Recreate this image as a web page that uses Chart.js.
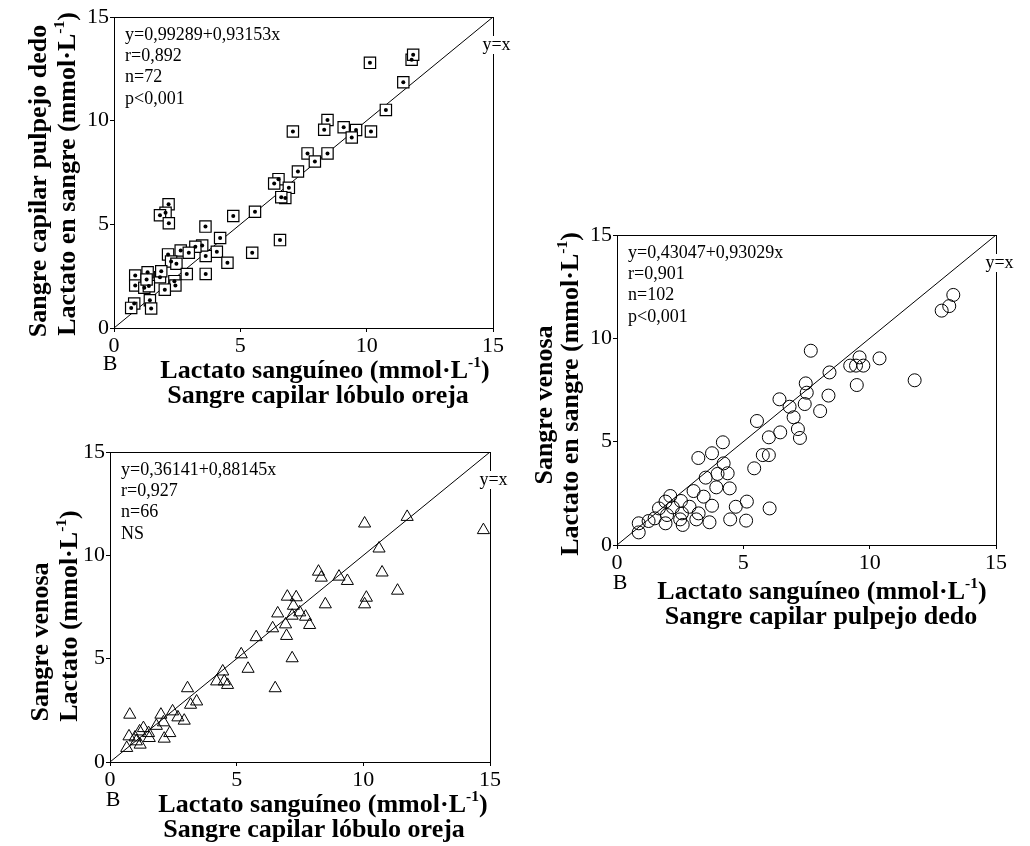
<!DOCTYPE html>
<html>
<head>
<meta charset="utf-8">
<script src="https://cdn.jsdelivr.net/npm/chart.js@4.4.1/dist/chart.umd.min.js"></script>
<style>
  body { margin: 0; background: #fff; width: 1030px; height: 846px; position: relative; overflow: hidden; }
  canvas { position: absolute; }
</style>
</head>
<body>
<canvas id="c1" width="520" height="420" style="left:0;top:0"></canvas>
<canvas id="c2" width="520" height="416" style="left:0;top:430px"></canvas>
<canvas id="c3" width="510" height="420" style="left:520px;top:220px"></canvas>
<script>
// axis range and ticks shared by the three panels
const axisMin = 0;
const axisMax = 15;
const tickValues = [0, 5, 10, 15];

// Panel 1: capilar lóbulo oreja (x) vs capilar pulpejo dedo (y)
const earA = [10.13, 11.78, 11.84, 11.45, 10.76, 7.08, 8.45, 8.32, 9.09, 9.58, 10.17, 9.41, 7.66, 8.45, 7.95,
  7.28, 6.51, 6.34, 6.92, 6.78, 6.62, 5.58, 4.72, 2.16, 2.04, 1.82, 2.17, 3.62, 4.20, 6.57, 5.47, 4.07, 3.63,
  3.49, 3.22, 2.64, 2.96, 2.14, 2.26, 2.47, 4.49, 2.88, 3.63, 2.39, 2.43, 1.82, 1.87, 1.33, 0.84, 0.84, 1.20,
  1.38, 1.29, 2.01, 0.80, 0.68, 1.42, 1.47];
const fingerA = [12.79, 12.94, 13.18, 11.85, 10.52, 9.48, 10.03, 9.56, 9.68, 9.55, 9.48, 9.19, 8.42, 8.42, 8.03,
  7.55, 7.18, 6.97, 6.76, 6.27, 6.31, 5.61, 5.40, 5.97, 5.56, 5.44, 5.05, 4.89, 4.34, 4.24, 3.63, 3.68, 3.47,
  3.98, 3.92, 3.74, 3.63, 3.55, 3.21, 3.10, 3.15, 2.60, 2.61, 2.26, 2.05, 2.45, 2.74, 2.69, 2.53, 2.05, 1.94,
  2.02, 2.34, 1.85, 1.18, 0.97, 1.34, 0.94];
const statsA = ['y=0,99289+0,93153x', 'r=0,892', 'n=72', 'p<0,001'];

// Panel 2: capilar lóbulo oreja (x) vs venosa (y)
const earB = [10.05, 11.73, 14.74, 10.62, 10.74, 11.35, 10.12, 10.05, 8.23, 8.34, 9.04, 9.37, 8.50, 7.00, 7.35,
  7.24, 6.62, 7.19, 7.49, 7.72, 7.88, 6.93, 6.42, 6.97, 5.77, 5.18, 5.45, 7.19, 6.52, 4.45, 4.21, 4.51, 4.64,
  3.06, 3.42, 3.18, 2.47, 2.01, 2.68, 2.93, 2.11, 1.83, 0.78, 1.32, 1.52, 1.17, 2.36, 2.14, 0.75, 1.04, 1.19,
  0.66, 1.55, 0.99];
const venousB = [11.54, 11.86, 11.22, 10.33, 9.17, 8.29, 7.95, 7.63, 9.21, 8.92, 8.97, 8.76, 7.63, 8.00, 7.97,
  7.56, 7.19, 7.08, 7.24, 7.03, 6.63, 6.66, 6.47, 6.10, 6.04, 5.21, 4.51, 5.02, 3.57, 4.38, 3.90, 3.90, 3.73,
  3.57, 2.93, 2.77, 2.45, 2.29, 2.16, 2.00, 1.92, 1.75, 2.29, 1.64, 1.40, 1.48, 1.40, 1.13, 1.24, 1.00, 0.84,
  0.68, 1.16, 1.19];
const statsB = ['y=0,36141+0,88145x', 'r=0,927', 'n=66', 'NS'];

// Panel 3: capilar pulpejo dedo (x) vs venosa (y)
const fingerC = [13.31, 13.15, 12.85, 7.67, 9.60, 10.39, 9.23, 9.46, 9.75, 11.78, 9.49, 8.41, 7.47, 7.51, 7.43,
  8.37, 6.43, 6.83, 8.04, 6.99, 7.16, 7.24, 5.54, 6.46, 6.01, 5.77, 6.01, 5.43, 6.04, 4.19, 3.76, 3.22, 4.22,
  4.38, 3.98, 3.51, 3.93, 4.46, 3.03, 3.43, 2.53, 2.11, 1.92, 1.66, 2.21, 2.87, 3.76, 4.70, 5.14, 5.11, 4.48,
  3.66, 3.14, 3.23, 2.57, 2.50, 2.60, 1.98, 1.92, 1.49, 1.25, 0.86, 0.86];
const venousC = [12.10, 11.56, 11.34, 9.40, 9.08, 9.03, 8.68, 8.68, 8.68, 7.97, 7.74, 8.35, 7.82, 7.37, 6.82,
  7.23, 7.05, 6.69, 6.48, 6.18, 5.61, 5.18, 6.00, 5.45, 5.21, 4.35, 4.35, 3.71, 1.77, 4.97, 4.44, 4.21, 3.95,
  3.47, 3.44, 3.26, 2.79, 2.74, 2.61, 2.34, 2.13, 2.37, 2.10, 1.77, 1.82, 1.85, 1.90, 1.85, 2.10, 1.18, 1.24,
  1.10, 1.24, 1.53, 1.53, 1.24, 0.97, 1.45, 1.05, 1.29, 1.16, 1.05, 0.61];
const statsC = ['y=0,43047+0,93029x', 'r=0,901', 'n=102', 'p<0,001'];

const serif = '"Liberation Serif", "Times New Roman", serif';
const unit = pre => [[pre + ' (mmol·L'], ['-1', true], [')']];

// draws a line of text made of runs (some superscript), centred on x,y
function richText(ctx, runs, x, y, size, bold, rotate) {
  const weight = bold ? 'bold ' : '';
  let w = 0;
  runs.forEach(([t, sup]) => {
    ctx.font = weight + (sup ? size * 0.6 : size) + 'px ' + serif;
    w += ctx.measureText(t).width;
  });
  ctx.save();
  ctx.translate(x, y);
  if (rotate) ctx.rotate(-Math.PI / 2);
  ctx.textAlign = 'left';
  ctx.textBaseline = 'middle';
  ctx.fillStyle = '#000';
  let cx = -w / 2;
  runs.forEach(([t, sup]) => {
    ctx.font = weight + (sup ? size * 0.6 : size) + 'px ' + serif;
    ctx.fillText(t, cx, sup ? -size * 0.3 : 0);
    cx += ctx.measureText(t).width;
  });
  ctx.restore();
}

const figText = {
  id: 'figText',
  afterDraw(chart, args, o) {
    const { ctx, chartArea: a } = chart;
    ctx.save();
    ctx.strokeStyle = '#000';
    ctx.lineWidth = 1;
    ctx.strokeRect(a.left + 0.5, a.top + 0.5, a.right - a.left, a.bottom - a.top);

    // regression statistics
    ctx.font = '18px ' + serif;
    ctx.fillStyle = '#000';
    ctx.textAlign = 'left';
    ctx.textBaseline = 'middle';
    o.stats.forEach((s, i) => ctx.fillText(s, a.left + 11, a.top + 18 + i * 21.3));

    // y=x label sitting on the right frame
    const lx = a.right + 3.5, ly = a.top + 28;
    const lw = ctx.measureText('y=x').width;
    ctx.fillStyle = '#fff';
    ctx.fillRect(lx - lw / 2 - 1, ly - 9, lw + 2, 18);
    ctx.fillStyle = '#000';
    ctx.textAlign = 'center';
    ctx.fillText('y=x', lx, ly);

    ctx.font = '22px ' + serif;
    ctx.fillText('B', o.b[0], o.b[1]);
    ctx.restore();

    o.yTitle.forEach(t => richText(ctx, t.runs, t.x, t.y, 26, true, true));
    o.xTitle.forEach(t => richText(ctx, t.runs, t.x, t.y, 26, true, false));
  }
};

function markerSets(marker, pts) {
  if (marker === 'square') {
    return [
      { data: pts, pointStyle: 'circle', pointRadius: 2, backgroundColor: '#000', borderWidth: 0, clip: 10 },
      { data: pts, pointStyle: 'rect', pointRadius: 8, backgroundColor: '#fff', borderColor: '#000', borderWidth: 1.2, clip: 10 }
    ];
  }
  if (marker === 'triangle') {
    return [{ data: pts, pointStyle: 'triangle', pointRadius: 7, backgroundColor: 'rgba(0,0,0,0)', borderColor: '#000', borderWidth: 1, clip: 10 }];
  }
  return [{ data: pts, pointStyle: 'circle', pointRadius: 6.5, backgroundColor: 'rgba(0,0,0,0)', borderColor: '#000', borderWidth: 1, clip: 10 }];
}

function axis(fit) {
  return {
    type: 'linear',
    min: axisMin,
    max: axisMax,
    afterBuildTicks: s => { s.ticks = tickValues.map(v => ({ value: v })); },
    afterFit: fit,
    ticks: { color: '#000', font: { family: serif, size: 22 }, padding: 1, maxRotation: 0 },
    grid: { drawOnChartArea: false, drawTicks: true, tickLength: 4, color: '#000' },
    border: { display: true, color: '#000', width: 1 }
  };
}

function makePanel(id, p) {
  const pts = p.xs.map((x, i) => ({ x: x, y: p.ys[i] }));
  const identity = [{ x: axisMin, y: axisMin }, { x: axisMax, y: axisMax }];
  const datasets = markerSets(p.marker, pts);
  datasets.push({ data: identity, showLine: true, pointRadius: 0, borderColor: '#000', borderWidth: 1 });

  const ctx = document.getElementById(id).getContext('2d');
  new Chart(ctx, {
    type: 'scatter',
    data: { datasets: datasets },
    options: {
      responsive: false,
      animation: false,
      devicePixelRatio: 1,
      layout: { padding: { left: 0, top: p.area.top, right: p.area.right, bottom: 0 } },
      scales: {
        x: axis(s => { s.height = p.area.xh; }),
        y: axis(s => { s.width = p.area.yw; })
      },
      plugins: {
        legend: { display: false },
        tooltip: { enabled: false },
        figText: { stats: p.stats, b: p.b, yTitle: p.yTitle, xTitle: p.xTitle }
      }
    },
    plugins: [figText]
  });
}

makePanel('c1', {
  xs: earA, ys: fingerA, marker: 'square', stats: statsA,
  area: { top: 17, right: 27, yw: 114, xh: 92 },
  b: [110, 364],
  yTitle: [{ runs: [['Sangre capilar pulpejo dedo']], x: 39, y: 181 },
           { runs: unit('Lactato en sangre'), x: 68, y: 174 }],
  xTitle: [{ runs: unit('Lactato sanguíneo'), x: 325, y: 371 },
           { runs: [['Sangre capilar lóbulo oreja']], x: 318, y: 396 }]
});

makePanel('c2', {
  xs: earB, ys: venousB, marker: 'triangle', stats: statsB,
  area: { top: 22, right: 30, yw: 110, xh: 84 },
  b: [113, 370],
  yTitle: [{ runs: [['Sangre venosa']], x: 41, y: 212 },
           { runs: unit('Lactato'), x: 70, y: 186 }],
  xTitle: [{ runs: unit('Lactato sanguíneo'), x: 323, y: 375 },
           { runs: [['Sangre capilar lóbulo oreja']], x: 314, y: 400 }]
});

makePanel('c3', {
  xs: fingerC, ys: venousC, marker: 'circle', stats: statsC,
  area: { top: 15, right: 34, yw: 97, xh: 95 },
  b: [100, 363],
  yTitle: [{ runs: [['Sangre venosa']], x: 25, y: 185 },
           { runs: unit('Lactato en sangre'), x: 51, y: 174 }],
  xTitle: [{ runs: unit('Lactato sanguíneo'), x: 302, y: 372 },
           { runs: [['Sangre capilar pulpejo dedo']], x: 301, y: 397 }]
});
</script>
</body>
</html>
